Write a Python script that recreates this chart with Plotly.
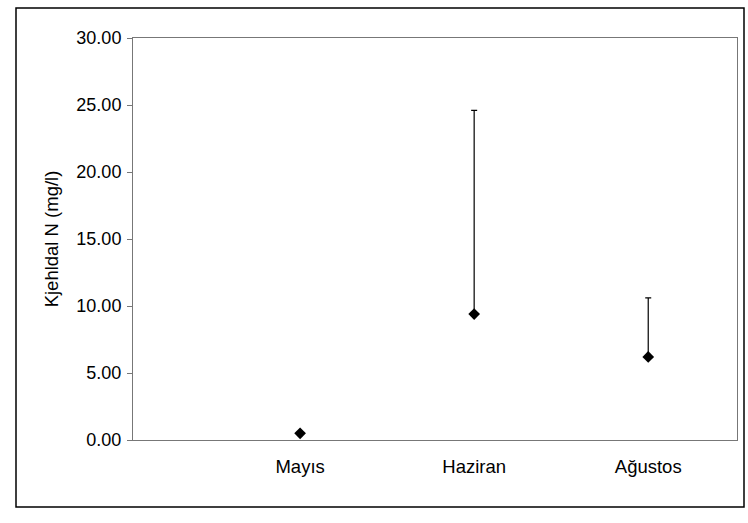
import plotly.graph_objects as go

# Monthly Kjeldahl nitrogen: mean value and upper range
months = ["Mayıs", "Haziran", "Ağustos"]
kjeldahl_n = [0.5, 9.4, 6.2]
upper_err = [0.0, 15.2, 4.4]
y_ticks = [0, 5, 10, 15, 20, 25, 30]
y_tick_labels = ["0.00", "5.00", "10.00", "15.00", "20.00", "25.00", "30.00"]

FONT = "Liberation Sans, Arial, sans-serif"
W, H = 748, 523
L, R, T, B = 133, 11, 38, 83

fig = go.Figure()
fig.add_trace(go.Scatter(
    x=months,
    y=kjeldahl_n,
    mode="markers",
    marker=dict(symbol="diamond", size=9, color="black"),
    error_y=dict(type="data", symmetric=False, array=upper_err,
                 arrayminus=[0, 0, 0], color="black", thickness=1.2, width=3),
    showlegend=False,
))

pw = W - L - R
ph = H - T - B
def px(xp):
    return (xp - L) / pw
def py(yp):
    return (H - B - yp) / ph

# outer chart frame
fig.add_shape(type="rect", xref="paper", yref="paper",
              x0=px(16), x1=px(744), y0=py(507), y1=py(8),
              line=dict(color="black", width=1.5), fillcolor="rgba(0,0,0,0)")

fig.update_layout(
    width=W, height=H,
    margin=dict(l=L, r=R, t=T, b=B),
    paper_bgcolor="white", plot_bgcolor="white",
    font=dict(family=FONT, size=18, color="black"),
    xaxis=dict(
        type="category", range=[-0.96, 2.51],
        showgrid=False, zeroline=False,
        showline=True, linecolor="#777", linewidth=1, mirror=True,
        ticks="", ticklabelstandoff=10,
        tickfont=dict(size=18.5),
    ),
    yaxis=dict(
        range=[0, 30], tickvals=y_ticks, ticktext=y_tick_labels,
        showgrid=False, zeroline=False,
        showline=True, linecolor="#777", linewidth=1, mirror=True,
        ticks="outside", ticklen=5, tickcolor="#777", ticklabelstandoff=2,
        tickfont=dict(size=18),
        title=dict(text="Kjehldal N (mg/l)", font=dict(size=18.5), standoff=12),
    ),
)

fig.write_html("out.html")
